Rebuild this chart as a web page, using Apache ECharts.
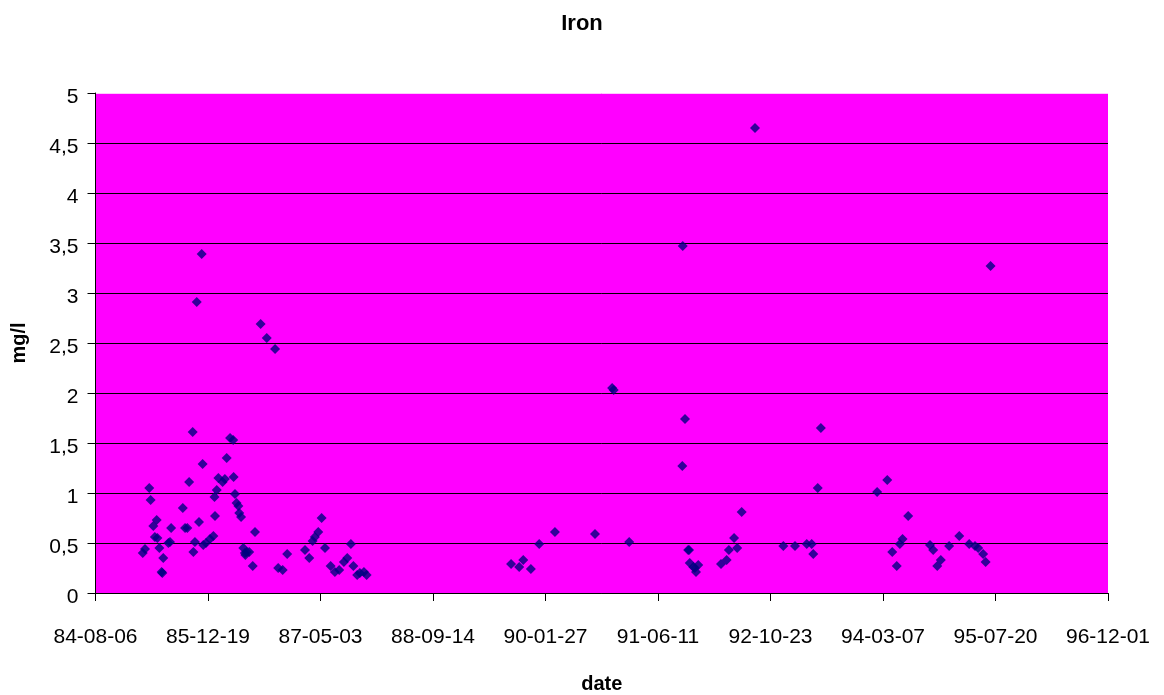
<!DOCTYPE html>
<html>
<head>
<meta charset="utf-8">
<title>Iron</title>
<script src="https://cdn.jsdelivr.net/npm/echarts@6/dist/echarts.min.js"></script>
<style>
  html, body { margin: 0; padding: 0; background: #fff; }
  #chart { width: 1164px; height: 695px; }
</style>
</head>
<body>
<div id="chart"></div>
<script>
// sample dates as Excel day serials (30900 = 84-08-06)
const sampleDates = [
  31110, 31120, 31139, 31145, 31157, 31164, 31172, 31175, 31184, 31194,
  31197, 31201, 31224, 31231, 31236, 31288, 31298, 31308, 31316, 31332,
  31335, 31342, 31350, 31360, 31372, 31376, 31379, 31391, 31409, 31424,
  31429, 31431, 31439, 31446, 31465, 31475, 31483, 31498, 31512, 31514,
  31520, 31527, 31535, 31539, 31547, 31557, 31564, 31566, 31572, 31583,
  31599, 31609, 31634, 31661, 31698, 31712, 31732, 31752, 31831, 31850,
  31865, 31875, 31890, 31905, 31920, 31945, 31964, 31983, 32004, 32019,
  32035, 32046, 32063, 32075, 32093, 32105,
  32747, 32783, 32801, 32835, 32872, 32942, 33120, 33196, 33203, 33272,
  33508, 33510, 33520, 33534, 33538, 33541, 33557, 33564, 33569, 33579,
  33680, 33705, 33715, 33738, 33752, 33772, 33831, 33957, 34009, 34061,
  34083, 34090, 34110, 34124,
  34374, 34419, 34441, 34461, 34475, 34487, 34512, 34609, 34623, 34641,
  34657, 34694, 34739, 34783, 34809, 34823, 34845, 34856, 34878
];
// iron, mg/l
const ironValues = [
  0.40, 0.44, 1.05, 0.93, 0.67, 0.56, 0.73, 0.55, 0.45, 0.21,
  0.20, 0.35, 0.50, 0.51, 0.65, 0.85, 0.65, 0.65, 1.11, 1.61,
  0.41, 0.51, 2.91, 0.71, 3.39, 1.29, 0.48, 0.50, 0.54, 0.57,
  0.96, 0.77, 1.03, 1.15, 1.11, 1.14, 1.35, 1.55, 1.53, 1.16,
  0.99, 0.90, 0.87, 0.80, 0.76, 0.45, 0.40, 0.38, 0.41, 0.41,
  0.27, 0.61, 2.69, 2.55, 2.44, 0.25, 0.23, 0.39, 0.43, 0.35,
  0.52, 0.56, 0.61, 0.75, 0.45, 0.27, 0.21, 0.23, 0.31, 0.35,
  0.49, 0.27, 0.18, 0.20, 0.21, 0.18,
  0.29, 0.26, 0.33, 0.24, 0.49, 0.61, 0.59, 2.05, 2.03, 0.51,
  1.27, 3.47, 1.74, 0.43, 0.43, 0.30, 0.26, 0.25, 0.21, 0.28,
  0.29, 0.33, 0.43, 0.55, 0.45, 0.81, 4.65, 0.47, 0.47, 0.49,
  0.49, 0.39, 1.05, 1.65,
  1.01, 1.13, 0.41, 0.27, 0.49, 0.54, 0.77, 0.48, 0.43, 0.27,
  0.33, 0.47, 0.57, 0.49, 0.47, 0.45, 0.39, 0.31, 3.27
];

const xStart = 30900;   // first tick, 84-08-06
const xStep = 500;      // days between ticks
const xTickCount = 9;

function serialToLabel(serial) {
  const d = new Date(Date.UTC(1899, 11, 30) + serial * 86400000);
  const yy = String(d.getUTCFullYear()).slice(2);
  const mm = String(d.getUTCMonth() + 1).padStart(2, '0');
  const dd = String(d.getUTCDate()).padStart(2, '0');
  return yy + '-' + mm + '-' + dd;
}

const points = sampleDates.map((s, i) => [s - xStart, ironValues[i]]);

// top gridline (5) is not drawn in the original
const gridColors = ['#000', '#000', '#000', '#000', '#000', '#000',
  '#000', '#000', '#000', '#000', '#ffc8ff'];

const chart = echarts.init(document.getElementById('chart'));
chart.setOption({
  animation: false,
  textStyle: { fontFamily: 'Liberation Sans, Arial, sans-serif', color: '#000' },
  title: {
    text: 'Iron',
    left: 'center',
    top: 8,
    textStyle: { fontSize: 22, fontWeight: 'bold', color: '#000' }
  },
  grid: {
    left: 95.5, top: 93, right: 56, bottom: 102,
    outerBoundsMode: 'none',
    show: true, backgroundColor: '#ff00ff', borderWidth: 0
  },
  xAxis: {
    type: 'value',
    min: 0,
    max: xStep * xTickCount,
    interval: xStep,
    name: 'date',
    nameLocation: 'middle',
    nameGap: 81,
    nameTextStyle: { fontSize: 20, fontWeight: 'bold', color: '#000' },
    axisLine: { onZero: false, lineStyle: { color: '#000', width: 1 } },
    axisTick: { length: 8, lineStyle: { color: '#000' } },
    splitLine: { show: false },
    axisLabel: {
      fontSize: 21,
      color: '#000',
      margin: 34,
      formatter: v => serialToLabel(v + xStart)
    }
  },
  yAxis: {
    type: 'value',
    min: 0,
    max: 5,
    interval: 0.5,
    name: 'mg/l',
    nameLocation: 'middle',
    nameGap: 66,
    nameTextStyle: { fontSize: 20, fontWeight: 'bold', color: '#000' },
    axisLine: { show: true, lineStyle: { color: '#000', width: 1 } },
    axisTick: { show: true, length: 8, lineStyle: { color: '#000' } },
    splitLine: { show: true, lineStyle: { color: gridColors, width: 1 } },
    axisLabel: {
      fontSize: 21,
      color: '#000',
      margin: 17,
      verticalAlign: 'top',
      lineHeight: 9,
      formatter: v => String(v).replace('.', ',')
    }
  },
  series: [{
    type: 'scatter',
    symbol: 'diamond',
    symbolSize: [10, 10],
    itemStyle: { color: '#000080' },
    data: points
  }]
});
</script>
</body>
</html>
